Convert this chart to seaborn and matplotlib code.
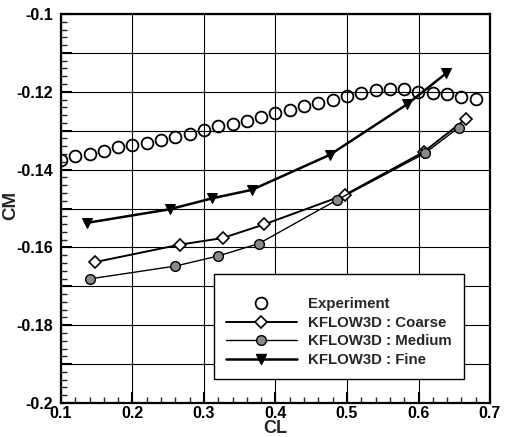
import matplotlib
matplotlib.use("Agg")
import matplotlib.pyplot as plt
import seaborn as sns
import numpy as np
import pandas as pd
from matplotlib.lines import Line2D
from matplotlib.ticker import MultipleLocator, FuncFormatter

# ---- data ----
exp_cl = [0.10, 0.12, 0.14, 0.16, 0.18, 0.20, 0.22, 0.24, 0.26, 0.28,
          0.30, 0.32, 0.34, 0.36, 0.38, 0.40, 0.42, 0.44, 0.46, 0.48,
          0.50, 0.52, 0.54, 0.56, 0.58, 0.60, 0.62, 0.64, 0.66, 0.68]
exp_cm = [-0.1375, -0.1366, -0.1359, -0.1351, -0.1342, -0.1338, -0.1331, -0.1325, -0.1317, -0.1308,
          -0.1298, -0.1288, -0.1283, -0.1275, -0.1266, -0.1255, -0.1247, -0.1237, -0.1228, -0.1220,
          -0.1210, -0.1203, -0.1196, -0.1192, -0.1194, -0.1200, -0.1203, -0.1206, -0.1214, -0.1218]

coarse_cl = [0.147, 0.266, 0.326, 0.384, 0.497, 0.607, 0.666]
coarse_cm = [-0.1638, -0.1593, -0.1576, -0.1541, -0.1465, -0.1355, -0.1270]

medium_cl = [0.140, 0.260, 0.320, 0.377, 0.486, 0.609, 0.656]
medium_cm = [-0.1681, -0.1648, -0.1622, -0.1590, -0.1478, -0.1358, -0.1292]

fine_cl = [0.136, 0.252, 0.311, 0.367, 0.476, 0.584, 0.639]
fine_cm = [-0.1537, -0.1502, -0.1474, -0.1452, -0.1362, -0.1232, -0.1152]

labels = ["Experiment", "KFLOW3D : Coarse", "KFLOW3D : Medium", "KFLOW3D : Fine"]

# ---- style ----
sns.set_style("white")
plt.rcParams['font.family'] = ['Liberation Sans', 'DejaVu Sans']
plt.rcParams['font.weight'] = 'bold'

fig = plt.figure(figsize=(5.06, 4.37), dpi=100)
ax = fig.add_axes([61/506, 34/437, 429/506, 389/437])

sns.lineplot(x=coarse_cl, y=coarse_cm, ax=ax, sort=False, estimator=None,
             color='black', lw=1.4, marker='D', markersize=6.0,
             markerfacecolor='white', markeredgecolor='black', markeredgewidth=1.2, zorder=3)
sns.lineplot(x=medium_cl, y=medium_cm, ax=ax, sort=False, estimator=None,
             color='black', lw=1.0, marker='o', markersize=7.0,
             markerfacecolor='#8a8a8a', markeredgecolor='black', markeredgewidth=1.0, zorder=3)
sns.lineplot(x=fine_cl, y=fine_cm, ax=ax, sort=False, estimator=None,
             color='black', lw=1.8, marker='v', markersize=6.5,
             markerfacecolor='black', markeredgecolor='black', zorder=3)
sns.lineplot(x=exp_cl, y=exp_cm, ax=ax, sort=False, estimator=None,
             linestyle='none', marker='o', markersize=8.5,
             markerfacecolor='none', markeredgecolor='black', markeredgewidth=1.3, zorder=4)

ax.set_xlim(0.1, 0.7)
ax.set_ylim(-0.2, -0.1)

ax.xaxis.set_major_locator(MultipleLocator(0.1))
ax.xaxis.set_minor_locator(MultipleLocator(0.02))
ax.yaxis.set_major_locator(MultipleLocator(0.01))
ax.yaxis.set_minor_locator(MultipleLocator(0.002))

def yfmt(v, pos):
    k = int(round(v * 100))
    if k % 2 == 0:
        return '%g' % round(v, 2)
    return ''
ax.yaxis.set_major_formatter(FuncFormatter(yfmt))
ax.xaxis.set_major_formatter(FuncFormatter(lambda v, p: '%g' % round(v, 1)))

ax.grid(True, which='major', color='black', lw=0.8)
ax.set_axisbelow(True)

for s in ax.spines.values():
    s.set_linewidth(1.6)
    s.set_color('black')
    s.set_visible(True)

ax.tick_params(which='major', direction='in', length=8, width=1.5, labelsize=11.5,
               top=False, right=False, left=True, bottom=True, colors='black')
ax.tick_params(which='minor', direction='in', length=4, width=1.0,
               top=False, right=False, left=True, bottom=True)
ax.tick_params(axis='y', which='major', pad=6)
ax.tick_params(axis='x', which='major', pad=2)
for t in ax.get_xticklabels() + ax.get_yticklabels():
    t.set_fontweight('bold')

ax.set_xlabel('CL', fontsize=13, fontweight='bold')
ax.xaxis.set_label_coords(0.5, -0.044)
ax.set_ylabel('CM', fontsize=13.5, fontweight='bold')
ax.yaxis.set_label_coords(-0.098, 0.509)

handles = [
    Line2D([], [], linestyle='none', marker='o', markersize=8.5,
           markerfacecolor='none', markeredgecolor='black', markeredgewidth=1.3),
    Line2D([], [], color='black', lw=1.4, marker='D', markersize=6.0,
           markerfacecolor='white', markeredgecolor='black', markeredgewidth=1.2),
    Line2D([], [], color='black', lw=1.0, marker='o', markersize=7.0,
           markerfacecolor='#8a8a8a', markeredgecolor='black'),
    Line2D([], [], color='black', lw=1.8, marker='v', markersize=6.5,
           markerfacecolor='black', markeredgecolor='black'),
]
leg = ax.legend(handles, labels, loc='upper left', bbox_to_anchor=(0.357, 0.332),
                prop={'family': 'Liberation Sans', 'weight': 'bold', 'size': 10.8},
                title=' ', title_fontsize=5,
                handlelength=4.7, handletextpad=0.75, labelspacing=0.3,
                borderpad=0.8, borderaxespad=0, fancybox=False, framealpha=1,
                edgecolor='black', markerscale=1.0)
leg.get_frame().set_linewidth(1.0)

fig.savefig('out.png', dpi=100)
